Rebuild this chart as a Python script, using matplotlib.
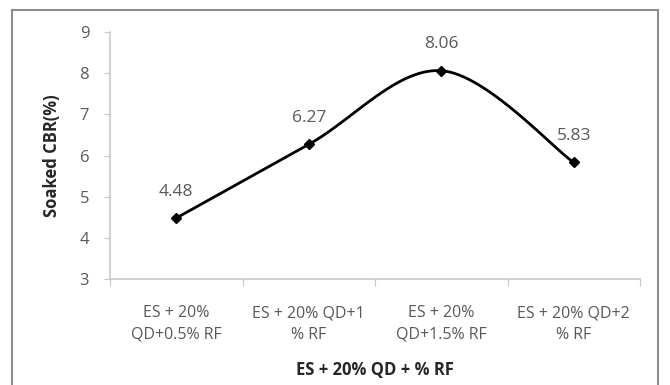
import numpy as np
import matplotlib.pyplot as plt
from matplotlib.patches import Rectangle

plt.rcParams['font.family'] = ['Open Sans', 'DejaVu Sans']

categories = ["ES + 20%\nQD+0.5% RF", "ES + 20% QD+1\n% RF",
              "ES + 20%\nQD+1.5% RF", "ES + 20% QD+2\n% RF"]
cbr = [4.48, 6.27, 8.06, 5.83]
value_labels = ["4.48", "6.27", "8.06", "5.83"]

grey_text = "#595959"
axis_grey = "#c8c8c8"


def smooth_curve(xs, ys, sx, sy, n=40):
    # Catmull-Rom through the points, computed in screen-like units
    px = np.asarray(xs, float) * sx
    py = np.asarray(ys, float) * sy
    P = np.column_stack([px, py])
    P = np.vstack([P[0], P, P[-1]])
    out = []
    for i in range(1, len(P) - 2):
        p0, p1, p2, p3 = P[i - 1], P[i], P[i + 1], P[i + 2]
        c1 = p1 + (p2 - p0) / 6.0
        c2 = p2 - (p3 - p1) / 6.0
        t = np.linspace(0, 1, n)[:, None]
        seg = ((1 - t) ** 3) * p1 + 3 * ((1 - t) ** 2) * t * c1 + 3 * (1 - t) * t ** 2 * c2 + t ** 3 * p2
        out.append(seg if i == 1 else seg[1:])
    out = np.vstack(out)
    return out[:, 0] / sx, out[:, 1] / sy


fig = plt.figure(figsize=(6.7, 3.85), dpi=100)

# chart frame
fig.patches.append(Rectangle((12 / 670, -0.05), 646 / 670, 1 - 10 / 385 + 0.05,
                             transform=fig.transFigure, fill=False,
                             edgecolor="#8c8c8c", linewidth=1.5))

ax = fig.add_axes([110 / 670, 1 - 279 / 385, 530 / 670, 247 / 385])

x = np.arange(len(cbr)) + 0.5
xs, ys = smooth_curve(x, cbr, 132.5, 41.2)
ax.plot(xs, ys, color="black", linewidth=2)
ax.plot(x, cbr, linestyle="none", marker="D", markersize=5.5, color="black")

for xi, yi, lab in zip(x, cbr, value_labels):
    ax.annotate(lab, (xi, yi), xytext=(0, 19), textcoords="offset points",
                ha="center", va="center", fontsize=12.5, color=grey_text)

ax.set_xlim(0, len(cbr))
ax.set_ylim(3, 9)
ax.set_yticks(range(3, 10))
ax.set_xticks(range(len(cbr) + 1))
ax.set_xticklabels([])
ax.set_xticks(x, minor=True)
ax.set_xticklabels(categories, minor=True, fontsize=11.5, color=grey_text,
                   linespacing=1.45)
ax.tick_params(axis="x", which="minor", length=0, pad=19)
ax.tick_params(axis="x", which="major", length=5, color=axis_grey)
ax.tick_params(axis="y", length=4, color=axis_grey, labelsize=12,
               labelcolor=grey_text, pad=11)

for side in ("top", "right"):
    ax.spines[side].set_visible(False)
for side in ("left", "bottom"):
    ax.spines[side].set_color(axis_grey)
    ax.spines[side].set_linewidth(1.2)

ax.set_ylabel("Soaked CBR(%)", fontsize=12, fontweight="bold", color="#262626",
              labelpad=13)
ax.set_xlabel("ES + 20% QD + % RF", fontsize=12, fontweight="bold", color="#262626",
              labelpad=13)

fig.savefig("out.png", dpi=100)
